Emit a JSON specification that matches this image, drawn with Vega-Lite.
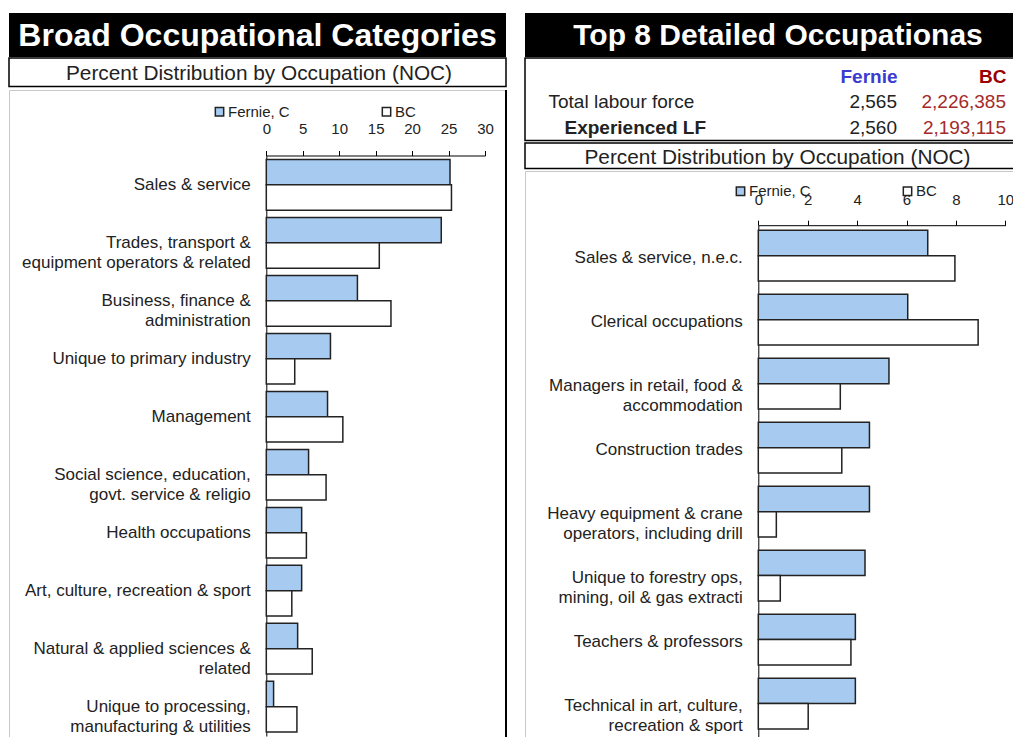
{
  "$schema": "https://vega.github.io/schema/vega-lite/v6.json",
  "padding": {"left": 8, "top": 13, "right": 0, "bottom": 0},
  "background": "white",
  "spacing": 16,
  "config": {"font": "Liberation Sans", "view": {"stroke": null}},
  "resolve": {"scale": {"color": "independent"}, "legend": {"color": "independent"}},
  "datasets": {
    "broad": [
      {"occ": "Sales & service", "series": "Fernie, C", "value": 25.2},
      {"occ": "Sales & service", "series": "BC", "value": 25.4},
      {"occ": "Trades, transport &\nequipment operators & related", "series": "Fernie, C", "value": 24.0},
      {"occ": "Trades, transport &\nequipment operators & related", "series": "BC", "value": 15.5},
      {"occ": "Business, finance &\nadministration", "series": "Fernie, C", "value": 12.5},
      {"occ": "Business, finance &\nadministration", "series": "BC", "value": 17.1},
      {"occ": "Unique to primary industry", "series": "Fernie, C", "value": 8.8},
      {"occ": "Unique to primary industry", "series": "BC", "value": 3.9},
      {"occ": "Management", "series": "Fernie, C", "value": 8.4},
      {"occ": "Management", "series": "BC", "value": 10.5},
      {"occ": "Social science, education,\ngovt. service & religio", "series": "Fernie, C", "value": 5.8},
      {"occ": "Social science, education,\ngovt. service & religio", "series": "BC", "value": 8.2},
      {"occ": "Health occupations", "series": "Fernie, C", "value": 4.85},
      {"occ": "Health occupations", "series": "BC", "value": 5.5},
      {"occ": "Art, culture, recreation & sport", "series": "Fernie, C", "value": 4.85},
      {"occ": "Art, culture, recreation & sport", "series": "BC", "value": 3.5},
      {"occ": "Natural & applied sciences &\nrelated", "series": "Fernie, C", "value": 4.3},
      {"occ": "Natural & applied sciences &\nrelated", "series": "BC", "value": 6.3},
      {"occ": "Unique to processing,\nmanufacturing & utilities", "series": "Fernie, C", "value": 1.0},
      {"occ": "Unique to processing,\nmanufacturing & utilities", "series": "BC", "value": 4.2}
    ],
    "top8": [
      {"occ": "Sales & service, n.e.c.", "series": "Fernie, C", "value": 6.86},
      {"occ": "Sales & service, n.e.c.", "series": "BC", "value": 7.96},
      {"occ": "Clerical occupations", "series": "Fernie, C", "value": 6.05},
      {"occ": "Clerical occupations", "series": "BC", "value": 8.9},
      {"occ": "Managers in retail, food &\naccommodation", "series": "Fernie, C", "value": 5.29},
      {"occ": "Managers in retail, food &\naccommodation", "series": "BC", "value": 3.32},
      {"occ": "Construction trades", "series": "Fernie, C", "value": 4.5},
      {"occ": "Construction trades", "series": "BC", "value": 3.38},
      {"occ": "Heavy equipment & crane\noperators, including drill", "series": "Fernie, C", "value": 4.5},
      {"occ": "Heavy equipment & crane\noperators, including drill", "series": "BC", "value": 0.73},
      {"occ": "Unique to forestry ops,\nmining, oil & gas extracti", "series": "Fernie, C", "value": 4.32},
      {"occ": "Unique to forestry ops,\nmining, oil & gas extracti", "series": "BC", "value": 0.89},
      {"occ": "Teachers & professors", "series": "Fernie, C", "value": 3.93},
      {"occ": "Teachers & professors", "series": "BC", "value": 3.75},
      {"occ": "Technical in art, culture,\nrecreation & sport", "series": "Fernie, C", "value": 3.93},
      {"occ": "Technical in art, culture,\nrecreation & sport", "series": "BC", "value": 2.02}
    ],
    "labour": [
      {"row": "Total labour force", "col": "Fernie", "value": "2,565"},
      {"row": "Total labour force", "col": "BC", "value": "2,226,385"},
      {"row": "Experienced LF", "col": "Fernie", "value": "2,560"},
      {"row": "Experienced LF", "col": "BC", "value": "2,193,115"}
    ]
  },
  "hconcat": [
    {
      "spacing": 0,
      "resolve": {"scale": {"color": "independent"}, "legend": {"color": "independent"}},
      "vconcat": [
        {
          "width": 497, "height": 44,
          "view": {"fill": "#000000", "stroke": null},
          "data": {"values": [{"t": "Broad Occupational Categories"}]},
          "mark": {"type": "text", "color": "#ffffff", "fontSize": 32, "fontWeight": "bold", "baseline": "middle", "dy": 1},
          "encoding": {"text": {"field": "t"}}
        },
        {
          "width": 497, "height": 28.5,
          "view": {"fill": "#ffffff", "stroke": "#000000", "strokeWidth": 1.5},
          "data": {"values": [{"t": "Percent Distribution by Occupation (NOC)"}]},
          "mark": {"type": "text", "color": "#222222", "fontSize": 20.8, "baseline": "middle", "dy": 2, "dx": 1.5},
          "encoding": {"text": {"field": "t"}}
        },
        {
          "width": 497, "height": 649,
          "view": {"fill": "#ffffff", "stroke": "#c8c8c8", "strokeWidth": 1},
          "layer": [
            {
              "data": {"name": "broad"},
              "mark": {"type": "bar", "stroke": "#222222", "strokeWidth": 1.5},
              "encoding": {
                "y": {
                  "field": "occ", "type": "nominal", "sort": null,
                  "scale": {"range": [65.5, 646], "paddingInner": 0.126, "paddingOuter": 0.069},
                  "axis": {
                    "title": null, "orient": "left", "offset": -257.3,
                    "domainColor": "#000000", "domainWidth": 1,
                    "ticks": false, "tickSize": 0, "grid": false,
                    "labelPadding": 16, "labelFontSize": 17, "labelColor": "#222222",
                    "labelLimit": 0, "labelLineHeight": 20,
                    "labelExpr": "split(datum.label, '\\n')"
                  }
                },
                "yOffset": {"field": "series", "type": "nominal", "scale": {"domain": ["Fernie, C", "BC"], "paddingInner": 0, "paddingOuter": 0}},
                "x": {
                  "field": "value", "type": "quantitative",
                  "scale": {"domain": [0, 30], "range": [257.3, 476], "nice": false, "zero": true},
                  "axis": {
                    "title": null, "orient": "top", "offset": -65.5,
                    "values": [0, 5, 10, 15, 20, 25, 30], "grid": false,
                    "domainColor": "#000000", "tickColor": "#000000", "tickSize": 5,
                    "labelFontSize": 15, "labelPadding": 14, "labelColor": "#222222",
                    "labelFlush": false, "labelOverlap": false
                  }
                },
                "color": {
                  "field": "series", "type": "nominal",
                  "scale": {"domain": ["Fernie, C", "BC"], "range": ["#a6caf0", "#ffffff"]},
                  "legend": {
                    "title": null, "orient": "none", "legendX": 203, "legendY": 14,
                    "direction": "horizontal", "columns": 2, "columnPadding": 89, "padding": 0,
                    "symbolType": "square", "symbolSize": 70, "symbolStrokeColor": "#222222", "symbolStrokeWidth": 1.5,
                    "labelFontSize": 15, "labelColor": "#222222", "labelOffset": 1
                  }
                }
              }
            },
            {
              "data": {"values": [{"edge": "right"}]},
              "mark": {"type": "rule", "color": "#000000", "strokeWidth": 2},
              "encoding": {"x": {"value": "width"}}
            }
          ]
        }
      ]
    },
    {
      "spacing": 0,
      "resolve": {"scale": {"color": "independent"}, "legend": {"color": "independent"}},
      "vconcat": [
        {
          "width": 489, "height": 44,
          "view": {"fill": "#000000", "stroke": null},
          "data": {"values": [{"t": "Top 8 Detailed Occupationas"}]},
          "mark": {"type": "text", "color": "#ffffff", "fontSize": 30, "fontWeight": "bold", "baseline": "middle", "dy": 1, "dx": 8.5},
          "encoding": {"text": {"field": "t"}}
        },
        {
          "width": 489, "height": 82.5,
          "view": {"fill": "#ffffff", "stroke": "#000000", "strokeWidth": 1.5},
          "data": {"name": "labour"},
          "encoding": {
            "x": {
              "field": "col", "type": "nominal",
              "scale": {"type": "point", "domain": ["Fernie", "BC"], "range": [372, 481], "padding": 0},
              "axis": {
                "title": null, "orient": "top", "offset": -18,
                "domain": false, "ticks": false, "tickSize": 0, "grid": false,
                "labelAngle": 0, "labelPadding": 0, "labelAlign": "right", "labelBaseline": "middle",
                "labelFontSize": 19, "labelFontWeight": "bold",
                "labelColor": {"condition": {"test": "datum.value === 'BC'", "value": "#990000"}, "value": "#3b3bd0"}
              }
            },
            "text": {"field": "value"},
            "color": {"condition": {"test": "datum.col === 'BC'", "value": "#a52a2a"}, "value": "#222222"}
          },
          "layer": [
            {
              "transform": [{"filter": "datum.row === 'Total labour force'"}],
              "mark": {"type": "text", "align": "right", "baseline": "middle", "fontSize": 19},
              "encoding": {
                "y": {
                  "field": "row", "type": "nominal",
                  "scale": {"type": "point", "domain": ["Total labour force", "Experienced LF"], "range": [43.5, 69.5], "padding": 0},
                  "axis": {
                    "title": null, "orient": "left", "offset": -23, "values": ["Total labour force"],
                    "domain": false, "ticks": false, "tickSize": 0, "grid": false,
                    "labelPadding": 0, "labelAlign": "left", "labelBaseline": "middle",
                    "labelFontSize": 19, "labelColor": "#222222", "labelLimit": 0
                  }
                }
              }
            },
            {
              "transform": [{"filter": "datum.row === 'Experienced LF'"}],
              "mark": {"type": "text", "align": "right", "baseline": "middle", "fontSize": 19},
              "encoding": {
                "y": {
                  "field": "row", "type": "nominal",
                  "scale": {"type": "point", "domain": ["Total labour force", "Experienced LF"], "range": [43.5, 69.5], "padding": 0},
                  "axis": {
                    "title": null, "orient": "left", "offset": -39, "values": ["Experienced LF"],
                    "domain": false, "ticks": false, "tickSize": 0, "grid": false,
                    "labelPadding": 0, "labelAlign": "left", "labelBaseline": "middle",
                    "labelFontSize": 19, "labelFontWeight": "bold", "labelColor": "#222222", "labelLimit": 0
                  }
                }
              }
            }
          ],
          "resolve": {"axis": {"y": "independent"}}
        },
        {
          "width": 489, "height": 25.5,
          "view": {"fill": "#ffffff", "stroke": "#000000", "strokeWidth": 1.5},
          "data": {"values": [{"t": "Percent Distribution by Occupation (NOC)"}]},
          "mark": {"type": "text", "color": "#222222", "fontSize": 20.8, "baseline": "middle", "dy": 2, "dx": 8},
          "encoding": {"text": {"field": "t"}}
        },
        {
          "width": 489, "height": 568,
          "view": {"fill": "#ffffff", "stroke": "#c8c8c8", "strokeWidth": 1},
          "data": {"name": "top8"},
          "mark": {"type": "bar", "stroke": "#222222", "strokeWidth": 1.5},
          "encoding": {
            "y": {
              "field": "occ", "type": "nominal", "sort": null,
              "scale": {"range": [54.2, 568], "paddingInner": 0.131, "paddingOuter": 0.08},
              "axis": {
                "title": null, "orient": "left", "offset": -233.3,
                "domainColor": "#000000", "domainWidth": 1,
                "ticks": false, "tickSize": 0, "grid": false,
                "labelPadding": 16, "labelFontSize": 17, "labelColor": "#222222",
                "labelLimit": 0, "labelLineHeight": 20,
                "labelExpr": "split(datum.label, '\\n')"
              }
            },
            "yOffset": {"field": "series", "type": "nominal", "scale": {"domain": ["Fernie, C", "BC"], "paddingInner": 0, "paddingOuter": 0}},
            "x": {
              "field": "value", "type": "quantitative",
              "scale": {"domain": [0, 10], "range": [233.3, 480.3], "nice": false, "zero": true},
              "axis": {
                "title": null, "orient": "top", "offset": -54.2,
                "values": [0, 2, 4, 6, 8, 10], "grid": false,
                "domainColor": "#000000", "tickColor": "#000000", "tickSize": 5,
                "labelFontSize": 15, "labelPadding": 12.5, "labelColor": "#222222",
                "labelFlush": false, "labelOverlap": false
              }
            },
            "color": {
              "field": "series", "type": "nominal",
              "scale": {"domain": ["Fernie, C", "BC"], "range": ["#a6caf0", "#ffffff"]},
              "legend": {
                "title": null, "orient": "none", "legendX": 208, "legendY": 12.5,
                "direction": "horizontal", "columns": 2, "columnPadding": 89, "padding": 0,
                "symbolType": "square", "symbolSize": 70, "symbolStrokeColor": "#222222", "symbolStrokeWidth": 1.5,
                "labelFontSize": 15, "labelColor": "#222222", "labelOffset": 1
              }
            }
          }
        }
      ]
    }
  ]
}
